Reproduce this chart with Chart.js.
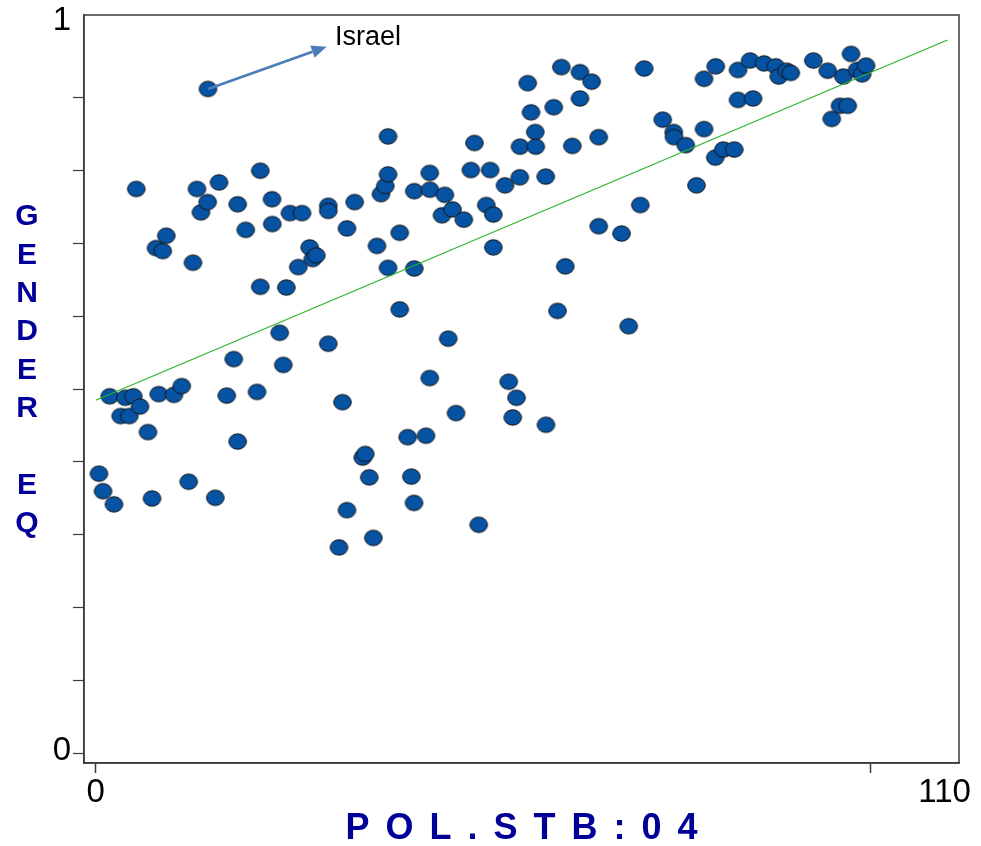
<!DOCTYPE html>
<html>
<head>
<meta charset="utf-8">
<style>
  html, body { margin: 0; padding: 0; background: #ffffff; }
  #wrap { width: 981px; height: 846px; }
</style>
<script src="https://cdn.jsdelivr.net/npm/chart.js@4.4.1/dist/chart.umd.min.js"></script>
</head>
<body>
<div id="wrap"><canvas id="chart" width="981" height="846"></canvas></div>
<script>
// Political stability score (2004) per country
const polStb = [
  0.47, 1.04, 2.60, 1.99, 3.55, 4.21, 4.77, 5.34, 6.29, 5.77,
  7.43, 8.00, 8.57, 8.95, 9.52, 10.03, 11.12, 12.22, 13.21, 13.82,
  14.39, 14.96, 15.91, 15.95, 16.99, 17.52, 18.61, 19.61, 20.17, 20.17,
  21.31, 22.92, 23.38, 23.38, 25.05, 25.09, 26.14, 26.65, 27.08, 27.60,
  28.78, 29.31, 30.40, 30.83, 31.34, 33.04, 33.04, 33.04, 34.56, 35.06,
  35.70, 35.70, 36.79, 37.93, 38.30, 38.87, 39.44, 39.96, 40.53, 41.14,
  41.53, 41.53, 41.53, 43.19, 43.19, 44.32, 44.84, 45.26, 45.26, 45.22,
  46.92, 47.45, 47.45, 47.49, 49.20, 49.60, 50.08, 50.69, 51.19, 52.29,
  53.29, 53.81, 54.41, 55.49, 56.04, 56.49, 56.49, 58.15, 58.67, 59.24,
  59.78, 60.25, 60.28, 61.37, 61.84, 62.45, 62.51, 63.97, 63.93, 65.07,
  65.61, 66.15, 66.71, 67.71, 68.80, 68.80, 70.46, 71.46, 71.46, 74.70,
  75.72, 77.36, 77.92, 80.55, 82.11, 82.16, 83.82, 85.35, 86.42, 86.42,
  88.08, 88.02, 89.16, 90.72, 91.25, 91.25, 92.96, 93.38, 94.94, 96.61,
  97.03, 98.17, 98.74, 101.95, 103.99, 104.56, 105.74, 106.21, 106.83, 107.30,
  108.16, 108.87, 109.43
];

// Gender equality index per country (same order)
const genderEq = [
  0.384, 0.360, 0.342, 0.490, 0.463, 0.488, 0.463, 0.490, 0.476, 0.774,
  0.441, 0.350, 0.693, 0.493, 0.689, 0.710, 0.492, 0.504, 0.373, 0.673,
  0.774, 0.742, 0.756, 0.911, 0.351, 0.783, 0.491, 0.541, 0.428, 0.753,
  0.718, 0.496, 0.640, 0.799, 0.760, 0.726, 0.577, 0.533, 0.639, 0.741,
  0.667, 0.741, 0.694, 0.678, 0.683, 0.751, 0.744, 0.562, 0.283, 0.482,
  0.720, 0.334, 0.756, 0.406, 0.411, 0.379, 0.296, 0.696, 0.767, 0.778,
  0.846, 0.794, 0.666, 0.714, 0.609, 0.434, 0.380, 0.771, 0.665, 0.344,
  0.436, 0.796, 0.515, 0.773, 0.738, 0.766, 0.569, 0.746, 0.467, 0.732,
  0.800, 0.837, 0.314, 0.752, 0.800, 0.739, 0.694, 0.779, 0.510, 0.461,
  0.488, 0.790, 0.832, 0.919, 0.879, 0.852, 0.832, 0.451, 0.791, 0.886,
  0.607, 0.941, 0.668, 0.833, 0.934, 0.898, 0.921, 0.845, 0.723, 0.713,
  0.586, 0.752, 0.939, 0.869, 0.852, 0.845, 0.834, 0.779, 0.925, 0.856,
  0.942, 0.817, 0.828, 0.828, 0.937, 0.896, 0.950, 0.898, 0.946, 0.942,
  0.928, 0.936, 0.933, 0.950, 0.936, 0.870, 0.888, 0.928, 0.888, 0.959,
  0.937, 0.931, 0.943
];

// Highlighted country
const calloutName = 'Israel';
const calloutIndex = 23;

// Fitted trend line end points
const fitX = [0, 121];
const fitY = [0.4845, 0.978];

// Axis ticks
const xTickValues = [0, 110];
const yTickValues = [0, 0.1, 0.2, 0.3, 0.4, 0.5, 0.6, 0.7, 0.8, 0.9, 1];
const yTickLabels = ['0', '', '', '', '', '', '', '', '', '', '1'];

const xTitle = 'POL.STB:04';
const yTitle = 'GENDER EQ';

const TEXT_FONT = "'Liberation Sans', Arial, Helvetica, sans-serif";
const AXIS_COLOR = '#3a3a3a';
const TITLE_COLOR = '#000099';

// Oval marker used for every country
function makeOval() {
  const c = document.createElement('canvas');
  c.width = 21; c.height = 19;
  const g = c.getContext('2d');
  g.beginPath();
  g.ellipse(10.5, 9.5, 8.8, 7.7, 0, 0, Math.PI * 2);
  g.fillStyle = '#0653a4';
  g.fill();
  g.lineWidth = 1;
  g.strokeStyle = '#111111';
  g.stroke();
  return c;
}

const points = polStb.map((x, i) => ({ x: x, y: genderEq[i] }));
const fitLine = fitX.map((x, i) => ({ x: x, y: fitY[i] }));

// Frame, axis titles and the labelled arrow
const decorations = {
  id: 'decorations',
  afterDatasetsDraw(chart) {
    const ctx = chart.ctx;
    const xs = chart.scales.x, ys = chart.scales.y;
    // arrow from the highlighted point to its name
    const x0 = xs.getPixelForValue(polStb[calloutIndex]);
    const y0 = ys.getPixelForValue(genderEq[calloutIndex]);
    const x1 = xs.getPixelForValue(32.8);
    const y1 = ys.getPixelForValue(0.969);
    const ang = Math.atan2(y1 - y0, x1 - x0);
    const headLen = 15, headHalf = 6.5;
    const bx = x1 - headLen * Math.cos(ang), by = y1 - headLen * Math.sin(ang);
    ctx.save();
    ctx.strokeStyle = '#4a7ebb';
    ctx.fillStyle = '#4a7ebb';
    ctx.lineWidth = 2.6;
    ctx.beginPath();
    ctx.moveTo(x0, y0);
    ctx.lineTo(bx, by);
    ctx.stroke();
    ctx.beginPath();
    ctx.moveTo(x1, y1);
    ctx.lineTo(bx + headHalf * Math.sin(ang), by - headHalf * Math.cos(ang));
    ctx.lineTo(bx - headHalf * Math.sin(ang), by + headHalf * Math.cos(ang));
    ctx.closePath();
    ctx.fill();
    ctx.fillStyle = '#000000';
    ctx.font = '27px ' + TEXT_FONT;
    ctx.textAlign = 'left';
    ctx.textBaseline = 'middle';
    ctx.fillText(calloutName, xs.getPixelForValue(34.0), ys.getPixelForValue(0.981));
    ctx.restore();
  },
  afterDraw(chart) {
    const ctx = chart.ctx;
    const a = chart.chartArea;
    ctx.save();
    // full box around the plot
    ctx.strokeStyle = AXIS_COLOR;
    ctx.lineWidth = 1.5;
    ctx.strokeRect(a.left, a.top, a.right - a.left, a.bottom - a.top);

    ctx.fillStyle = TITLE_COLOR;
    // x title, letter-spaced
    ctx.font = 'bold 36px ' + TEXT_FONT;
    ctx.textBaseline = 'middle';
    ctx.textAlign = 'left';
    const gap = 16;
    const widths = [...xTitle].map(ch => ctx.measureText(ch).width);
    const total = widths.reduce((s, w) => s + w, 0) + gap * (widths.length - 1);
    let cx = (a.left + a.right) / 2 - total / 2;
    [...xTitle].forEach((ch, i) => {
      ctx.fillText(ch, cx, 829);
      cx += widths[i] + gap;
    });

    // y title, letters stacked vertically
    ctx.font = 'bold 30px ' + TEXT_FONT;
    ctx.textAlign = 'center';
    const step = 38.4;
    [...yTitle].forEach((ch, i) => {
      if (ch !== ' ') ctx.fillText(ch, 27, 217 + i * step);
    });
    ctx.restore();
  }
};

new Chart(document.getElementById('chart'), {
  type: 'scatter',
  data: {
    datasets: [
      {
        type: 'line',
        data: fitLine,
        borderColor: '#2bb52b',
        borderWidth: 1.2,
        pointRadius: 0,
        fill: false,
        order: 0
      },
      {
        data: points,
        pointStyle: makeOval(),
        pointRadius: 9,
        order: 1
      }
    ]
  },
  options: {
    responsive: false,
    animation: false,
    events: [],
    layout: { padding: { top: 15, right: 22, left: 0, bottom: 0 } },
    plugins: { legend: { display: false }, tooltip: { enabled: false } },
    scales: {
      x: {
        type: 'linear',
        min: -1.66,
        max: 122.64,
        afterFit(scale) {
          scale.height = 83;
          scale.paddingLeft = 0;
          scale.paddingRight = 0;
        },
        afterBuildTicks(scale) {
          // last entry carries the "110" text out near the axis end
          scale.ticks = [{ value: xTickValues[0] }, { value: xTickValues[1] }, { value: 120.6 }];
        },
        ticks: {
          autoSkip: false,
          maxRotation: 0,
          padding: 0,
          color: '#000000',
          font: { family: TEXT_FONT, size: 33 },
          callback: (v) => v === xTickValues[0] ? '0' : (v === xTickValues[1] ? '' : String(xTickValues[1]))
        },
        grid: {
          drawOnChartArea: false,
          drawTicks: true,
          tickLength: 10,
          tickWidth: 1.5,
          tickColor: (c) => (c.tick && c.tick.value > 115) ? 'rgba(0,0,0,0)' : AXIS_COLOR
        },
        border: { display: true, color: AXIS_COLOR, width: 1.5 }
      },
      y: {
        type: 'linear',
        min: -0.01233,
        max: 1.01233,
        afterFit(scale) {
          scale.width = 84;
          scale.paddingTop = 0;
          scale.paddingBottom = 0;
        },
        afterBuildTicks(scale) {
          scale.ticks = yTickValues.map(v => ({ value: v }));
        },
        ticks: {
          autoSkip: false,
          padding: 2,
          labelOffset: -3,
          color: '#000000',
          font: { family: TEXT_FONT, size: 33 },
          callback: (v) => {
            const k = yTickValues.findIndex(t => Math.abs(t - v) < 1e-9);
            return k >= 0 ? yTickLabels[k] : '';
          }
        },
        grid: {
          drawOnChartArea: false,
          drawTicks: true,
          tickLength: 11,
          tickWidth: 1.2,
          tickColor: (c) => (c.tick && c.tick.value > 0.95) ? 'rgba(0,0,0,0)' : AXIS_COLOR
        },
        border: { display: true, color: AXIS_COLOR, width: 1.5 }
      }
    }
  },
  plugins: [decorations]
});
</script>
</body>
</html>
